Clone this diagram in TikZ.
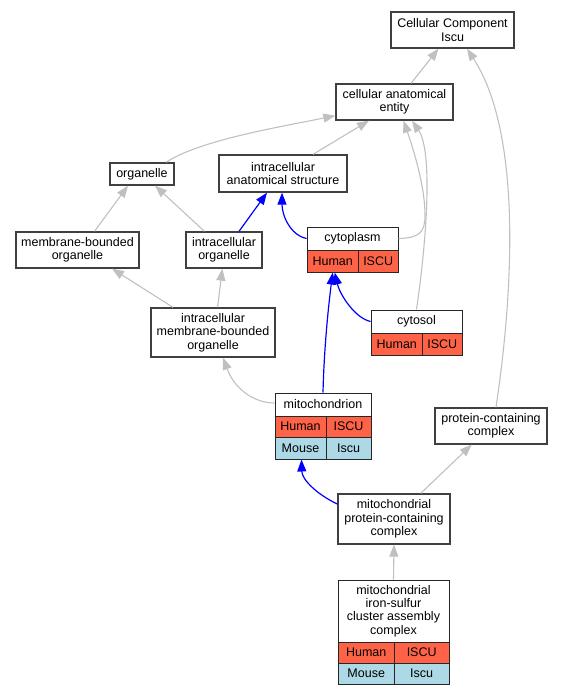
\documentclass[tikz,border=0pt]{standalone}
\usepackage{fontspec}
\setmainfont{Liberation Sans}
\usetikzlibrary{arrows.meta}
\definecolor{gohuman}{RGB}{255,99,71}
\definecolor{gomouse}{RGB}{173,216,230}
\definecolor{goedge}{RGB}{192,192,192}
\definecolor{goframe}{RGB}{64,64,64}

\begin{document}
\begin{tikzpicture}[x=1pt,y=-1pt,
        term/.style={draw=goframe, line width=1.3pt, fill=white, inner sep=0pt, align=center,
            font=\fontsize{12.5}{13.3}\selectfont},
        cell/.style={term, line width=1pt, draw=black!85},
        human/.style={cell, fill=gohuman},
        mouse/.style={cell, fill=gomouse},
        isa/.style={draw=goedge, line width=1.1pt, -{Triangle[length=12pt,width=9pt]}},
        partof/.style={draw=blue, line width=1.2pt, -{Triangle[length=12pt,width=9pt]}}]
        \useasboundingbox (0,0) rectangle (563,696);

        % Top terms
        \node[term, minimum width=123, minimum height=36] (cc) at (452.5,30) {Cellular Component\\Iscu};
        \node[term, minimum width=117, minimum height=36] (cae) at (394.5,102) {cellular anatomical\\entity};
        \node[term, minimum width=64, minimum height=22] (org) at (142,174) {organelle};
        \node[term, minimum width=128, minimum height=37] (ias) at (283,173.5) {intracellular\\anatomical structure};
        \node[term, minimum width=123, minimum height=36] (mbo) at (77.5,250) {membrane-bounded\\organelle};
        \node[term, minimum width=76, minimum height=36] (io) at (224,250) {intracellular\\organelle};
        \node[term, minimum width=124, minimum height=49] (imbo) at (213,332.5) {intracellular\\membrane-bounded\\organelle};
        \node[term, minimum width=112, minimum height=36] (pcc) at (491,426) {protein-containing\\complex};
        \node[term, minimum width=112, minimum height=50] (mpcc) at (394,519) {mitochondrial\\protein-containing\\complex};

        % Cytoplasm
        \node[cell, minimum width=91, minimum height=23] (cytoT) at (352.5,238.5) {cytoplasm};
        \node[human, minimum width=51.4, minimum height=22] (cytoH) at (332.7,261) {Human};
        \node[human, minimum width=39.6, minimum height=22] (cytoI) at (378.2,261) {ISCU};

        % Cytosol
        \node[cell, minimum width=91, minimum height=23] (solT) at (416.5,321.5) {cytosol};
        \node[human, minimum width=51.6, minimum height=22] (solH) at (396.8,344) {Human};
        \node[human, minimum width=39.4, minimum height=22] (solI) at (442.3,344) {ISCU};

        % Mitochondrion
        \node[cell, minimum width=96, minimum height=23] (mitoT) at (323,404.5) {mitochondrion};
        \node[human, minimum width=51, minimum height=21] (mitoHH) at (300.5,426.5) {Human};
        \node[human, minimum width=45, minimum height=21] (mitoHI) at (348.5,426.5) {ISCU};
        \node[mouse, minimum width=51, minimum height=22] (mitoMM) at (300.5,448) {Mouse};
        \node[mouse, minimum width=45, minimum height=22] (mitoMI) at (348.5,448) {Iscu};

        % Iron-sulfur cluster assembly complex
        \node[cell, minimum width=111, minimum height=62] (fesT) at (393.5,611) {mitochondrial\\iron-sulfur\\cluster assembly\\complex};
        \node[human, minimum width=56.3, minimum height=21] (fesHH) at (366.2,652.5) {Human};
        \node[human, minimum width=54.7, minimum height=21] (fesHI) at (421.7,652.5) {ISCU};
        \node[mouse, minimum width=56.3, minimum height=21] (fesMM) at (366.2,673.5) {Mouse};
        \node[mouse, minimum width=54.7, minimum height=21] (fesMI) at (421.7,673.5) {Iscu};

        % is_a edges
        \draw[isa] ([xshift=16.5pt]cae.north) -- ([xshift=-14pt]cc.south);
        \draw[isa] ([xshift=5pt]pcc.north) .. controls (515,280) and (520,130) .. ([xshift=14.5pt]cc.south);
        \draw[isa] ([xshift=24pt]org.north) .. controls (200,140) and (280,127) .. ([yshift=5pt]cae.south west);
        \draw[isa] ([xshift=30pt]ias.north) -- ([xshift=-25.5pt]cae.south);
        \draw[isa] (cytoT.east) .. controls (420,238) and (425,232) .. (425,215)
            .. controls (425,185) and (412,145) .. ([xshift=9pt]cae.south);
        \draw[isa] (solT.north) .. controls (428,230) and (432,150) .. ([xshift=17.5pt]cae.south);
        \draw[isa] ([xshift=17pt]mbo.north) -- ([xshift=-14pt]org.south);
        \draw[isa] ([xshift=-19.5pt]io.north) -- ([xshift=13pt]org.south);
        \draw[isa] ([xshift=-40pt]imbo.north) -- ([xshift=34.5pt]mbo.south);
        \draw[isa] ([xshift=4.6pt]imbo.north) -- ([xshift=-1.7pt]io.south);
        \draw[isa] ([yshift=1.5pt]mitoT.west) .. controls (255,403) and (235,390) .. ([xshift=10pt]imbo.south);
        \draw[isa] ([xshift=26.7pt]mpcc.north) -- ([xshift=-19.3pt]pcc.south);
        \draw[isa] (fesT.north) -- (mpcc.south);

        % part_of edges
        \draw[partof] ([xshift=15pt]io.north) -- ([xshift=-16pt]ias.south);
        \draw[partof] (cytoT.west) .. controls (290,235) and (282,215) .. ([xshift=-1pt]ias.south);
        \draw[partof] (mitoT.north) .. controls (324,350) and (328,310) .. (cytoH.south);
        \draw[partof] (solT.west) .. controls (355,318) and (340,295) .. ([xshift=2pt]cytoH.south);
        \draw[partof] ([yshift=15pt]mpcc.west) .. controls (318,495) and (302,480) .. ([xshift=1pt]mitoMM.south);
    \end{tikzpicture}
\end{document}
